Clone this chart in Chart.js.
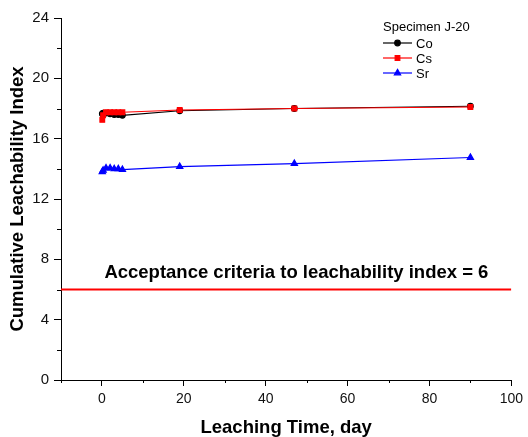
<!DOCTYPE html>
<html>
<head>
<meta charset="utf-8">
<script src="https://cdn.jsdelivr.net/npm/chart.js@4.4.1/dist/chart.umd.min.js"></script>
<style>
  html, body { margin: 0; padding: 0; background: #fff; }
  #wrap { width: 528px; height: 437px; }
</style>
</head>
<body>
<div id="wrap"><canvas id="leachChart" width="528" height="437"></canvas></div>
<script>
// leaching intervals (days) and cumulative leachability index per nuclide
const days = [0.083, 0.29, 1, 2, 3, 4, 5, 19, 47, 90];
const coIndex = [17.65, 17.7, 17.7, 17.65, 17.6, 17.6, 17.55, 17.85, 18.0, 18.15];
const csIndex = [17.25, 17.55, 17.75, 17.75, 17.75, 17.75, 17.75, 17.9, 18.0, 18.1];
const srIndex = [13.8, 13.9, 14.05, 14.05, 14.0, 14.0, 13.95, 14.15, 14.35, 14.75];
const criteriaX = [-10, 100];
const criteriaY = [6, 6];
const legendTitle = "Specimen J-20";
const criteriaLabel = "Acceptance criteria to leachability index = 6";

const FONT = "Arial, 'Liberation Sans', sans-serif";

function pts(xs, ys) {
    return xs.map((x, i) => ({ x: x, y: ys[i] }));
}

const isMajorX = v => v % 20 === 0;
const isMajorY = v => v % 4 === 0;

// short minor ticks, Chart.js only has one tick length
const minorTicks = {
    id: "minorTicks",
    afterDraw(chart) {
        const ctx = chart.ctx;
        const xs = chart.scales.x, ys = chart.scales.y;
        ctx.save();
        ctx.strokeStyle = "#000";
        ctx.lineWidth = 1;
        ctx.beginPath();
        xs.ticks.forEach(t => {
            if (isMajorX(t.value)) return;
            const px = Math.round(xs.getPixelForValue(t.value)) + 0.5;
            ctx.moveTo(px, xs.top);
            ctx.lineTo(px, xs.top + 3);
        });
        ys.ticks.forEach(t => {
            if (isMajorY(t.value)) return;
            const py = Math.round(ys.getPixelForValue(t.value)) + 0.5;
            ctx.moveTo(ys.right, py);
            ctx.lineTo(ys.right - 4, py);
        });
        ctx.stroke();
        ctx.restore();
    }
};

// fixed legend box in the upper right, like the original plot
const legendBox = {
    id: "legendBox",
    afterDraw(chart) {
        const ctx = chart.ctx;
        ctx.save();
        ctx.fillStyle = "#000";
        ctx.font = "13px " + FONT;
        ctx.textBaseline = "middle";
        ctx.fillText(legendTitle, 383, 27);
        const rows = [43, 58, 73];
        chart.data.datasets.slice(0, 3).forEach((ds, i) => {
            const y = rows[i];
            ctx.strokeStyle = ds.borderColor;
            ctx.lineWidth = 1.2;
            ctx.beginPath();
            ctx.moveTo(383, y);
            ctx.lineTo(412, y);
            ctx.stroke();
            ctx.fillStyle = ds.backgroundColor;
            ctx.strokeStyle = ds.borderColor;
            Chart.helpers.drawPoint(ctx, { pointStyle: ds.pointStyle, radius: ds.pointRadius, borderWidth: 1 }, 397.5, y);
            ctx.fillStyle = "#000";
            ctx.font = "13px " + FONT;
            ctx.fillText(ds.label, 416, y + 1);
        });
        ctx.restore();
    }
};

// caption above the acceptance line
const criteriaText = {
    id: "criteriaText",
    afterDatasetsDraw(chart) {
        const ctx = chart.ctx;
        const xs = chart.scales.x, ys = chart.scales.y;
        ctx.save();
        ctx.fillStyle = "#000";
        ctx.font = "bold 18.5px " + FONT;
        ctx.textAlign = "center";
        ctx.textBaseline = "alphabetic";
        ctx.fillText(criteriaLabel, xs.getPixelForValue(47.5), ys.getPixelForValue(6) - 12);
        ctx.restore();
    }
};

new Chart(document.getElementById("leachChart"), {
    type: "scatter",
    data: {
        datasets: [
            { label: "Co", data: pts(days, coIndex), showLine: true, borderColor: "#000", backgroundColor: "#000",
              pointStyle: "circle", pointRadius: 2.8, borderWidth: 1.2, order: 1 },
            { label: "Cs", data: pts(days, csIndex), showLine: true, borderColor: "#ff0000", backgroundColor: "#ff0000",
              pointStyle: "rect", pointRadius: 3.3, borderWidth: 1.2, order: 0 },
            { label: "Sr", data: pts(days, srIndex), showLine: true, borderColor: "#0000ff", backgroundColor: "#0000ff",
              pointStyle: "triangle", pointRadius: 3.6, borderWidth: 1.2, order: 2 },
            { label: "criteria", data: pts(criteriaX, criteriaY), showLine: true, borderColor: "#ff0000",
              pointRadius: 0, borderWidth: 2, order: 3 }
        ]
    },
    options: {
        responsive: false,
        animation: false,
        layout: { padding: { top: 18, right: 16, left: 0, bottom: 0 } },
        plugins: { legend: { display: false }, tooltip: { enabled: false } },
        scales: {
            x: {
                type: "linear", min: -10, max: 100,
                afterFit(s) { s.height = 57; },
                ticks: {
                    stepSize: 10, color: "#111", font: { family: FONT, size: 14 }, padding: 5,
                    maxRotation: 0, autoSkip: false,
                    callback: v => (isMajorX(v) ? v : "")
                },
                grid: { drawOnChartArea: false, drawTicks: true, tickLength: 6,
                        tickColor: c => (c.tick && isMajorX(c.tick.value) ? "#000" : "rgba(0,0,0,0)") },
                border: { color: "#000", width: 1 },
                title: { display: true, text: "Leaching Time, day", color: "#000",
                         font: { family: FONT, size: 18.5, weight: "bold", lineHeight: 1 }, padding: { top: 0, bottom: 0 } }
            },
            y: {
                min: 0, max: 24,
                afterFit(s) { s.width = 61; },
                ticks: {
                    stepSize: 2, color: "#111", font: { family: FONT, size: 15 }, padding: 5,
                    callback: v => (isMajorY(v) ? v : "")
                },
                grid: { drawOnChartArea: false, drawTicks: true, tickLength: 7,
                        tickColor: c => (c.tick && isMajorY(c.tick.value) ? "#000" : "rgba(0,0,0,0)") },
                border: { color: "#000", width: 1 },
                title: { display: true, text: "Cumulative Leachability Index", color: "#000",
                         font: { family: FONT, size: 18.5, weight: "bold" }, padding: { top: 7, bottom: 0 } }
            }
        }
    },
    plugins: [minorTicks, legendBox, criteriaText]
});
</script>
</body>
</html>
